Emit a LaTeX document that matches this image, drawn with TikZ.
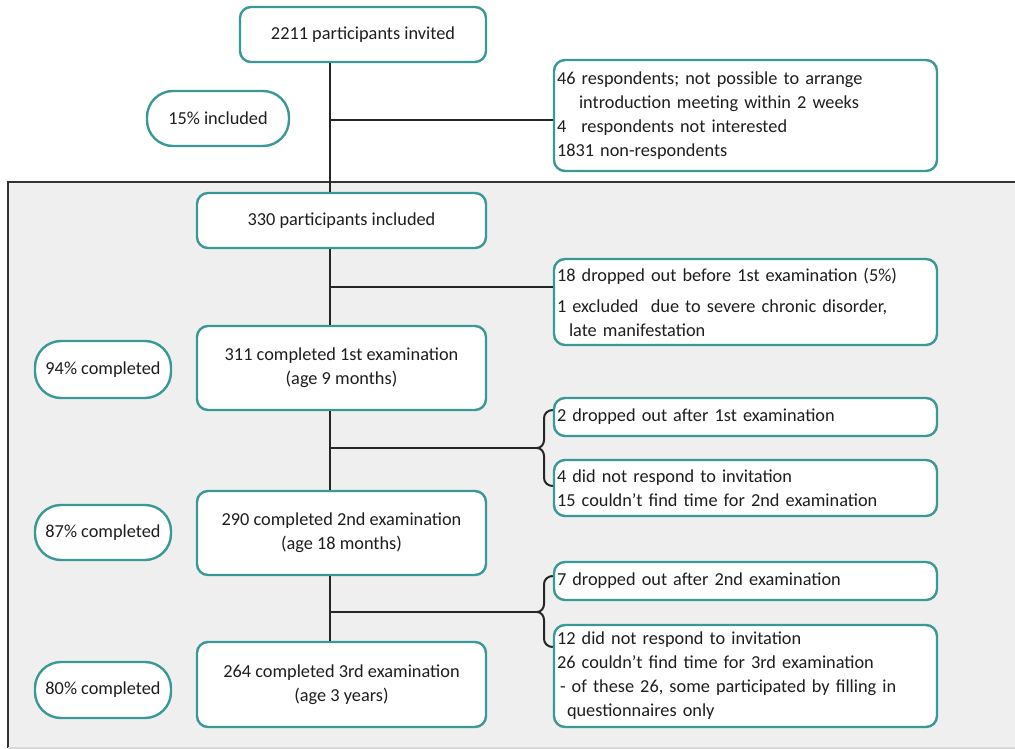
\documentclass[tikz,border=0pt]{standalone}
\usepackage{fontspec}
\setmainfont{Carlito}
\definecolor{tealb}{HTML}{3A9896}
\definecolor{panel}{HTML}{EFEFEF}
\definecolor{txt}{HTML}{1E1E1E}
\begin{document}
\begin{tikzpicture}[x=1pt,y=-1pt,
  fnt/.style={font=\fontsize{18.3}{24}\selectfont},
  box/.style={fnt,draw=tealb,line width=2.4pt,fill=white,rounded corners=11pt,
    align=center,text=txt,inner sep=0pt},
  pill/.style={fnt,draw=tealb,line width=2.4pt,fill=white,rounded corners=26pt,
    align=center,text=txt,inner sep=0pt},
  lbox/.style={fnt,draw=tealb,line width=2.4pt,fill=white,rounded corners=11pt,
    align=left,text=txt,inner xsep=3pt,inner ysep=0pt,text width=377pt},
  conn/.style={draw=black!85,line width=2.4pt},
  brc/.style={draw=black!85,line width=2pt}]
\useasboundingbox (0,0) rectangle (1015,749);
\fill[white] (0,0) rectangle (1015,749);
% panel
\fill[panel] (8,182) rectangle (1015,748);
\draw[black!80,line width=2pt] (1015,182) -- (8,182) -- (8,748);
\draw[black!15,line width=1.5pt] (8,748) -- (1015,748);

\coordinate (spine) at (330,0);

\node[box,minimum width=246pt,minimum height=55pt] (top) at (363,34.5) {2211 participants invited};
\node[pill,minimum width=142pt,minimum height=55pt] (p15) at (218,118.5) {15\% included};
\node[lbox,minimum height=111pt] (ex0) at (745.5,115.5) {46 respondents; not possible to arrange\\
\hspace*{22pt}introduction meeting within 2 weeks\\
4\hspace*{15pt}respondents not interested\\
1831 non-respondents};
\node[box,minimum width=289pt,minimum height=55pt] (inc) at (341.5,220.5) {330 participants included};
\node[lbox,minimum height=86pt] (ex1) at (745.5,302) {18 dropped out before 1st examination (5\%)\\[7pt]
1 excluded\ \ due to severe chronic disorder,\\
\hspace*{12pt}late manifestation};
\node[box,minimum width=289pt,minimum height=84pt] (c1) at (341.5,368) {311 completed 1st examination\\(age 9 months)};
\node[pill,minimum width=136pt,minimum height=57pt] (p94) at (103,369.5) {94\% completed};
\node[lbox,minimum height=38pt] (ex2a) at (745.5,417) {2 dropped out after 1st examination};
\node[lbox,minimum height=56pt] (ex2b) at (745.5,488) {4 did not respond to invitation\\
15 couldn’t find time for 2nd examination};
\node[pill,minimum width=136pt,minimum height=55pt] (p87) at (103,532.5) {87\% completed};
\node[box,minimum width=289pt,minimum height=84pt] (c2) at (341.5,533) {290 completed 2nd examination\\(age 18 months)};
\node[lbox,minimum height=38pt] (ex3a) at (745.5,581) {7 dropped out after 2nd examination};
\node[lbox,minimum height=102pt] (ex3b) at (745.5,676) {12 did not respond to invitation\\
26 couldn’t find time for 3rd examination\\
\hspace*{3pt}- of these 26, some participated by filling in\\
\hspace*{10pt}questionnaires only};
\node[pill,minimum width=136pt,minimum height=56pt] (p80) at (103,690) {80\% completed};
\node[box,minimum width=289pt,minimum height=85pt] (c3) at (341.5,684.5) {264 completed 3rd examination\\(age 3 years)};

% spine
\draw[conn] (top.south -| spine) -- (inc.north -| spine);
\draw[conn] (inc.south -| spine) -- (c1.north -| spine);
\draw[conn] (c1.south -| spine) -- (c2.north -| spine);
\draw[conn] (c2.south -| spine) -- (c3.north -| spine);
% side branches
\coordinate (j0) at (330,120);
\coordinate (j1) at (330,287);
\draw[conn] (j0) -- (j0 -| ex0.west);
\draw[conn] (j1) -- (j1 -| ex1.west);
% brace groups
\coordinate (b1) at (537,448);
\coordinate (b2) at (537,612);
\draw[conn] (b1 -| spine) -- (b1);
\draw[conn] (b2 -| spine) -- (b2);
\draw[brc] (ex2a.west |- 0,410) to[out=180,in=90] (544,418) -- (544,440) to[out=-90,in=0] (b1)
  to[out=0,in=90] (544,456) -- (544,478) to[out=-90,in=180] (ex2b.west |- 0,486);
\draw[brc] (ex3a.west |- 0,576) to[out=180,in=90] (544,584) -- (544,604) to[out=-90,in=0] (b2)
  to[out=0,in=90] (544,620) -- (544,639) to[out=-90,in=180] (ex3b.west |- 0,647);
\end{tikzpicture}
\end{document}
